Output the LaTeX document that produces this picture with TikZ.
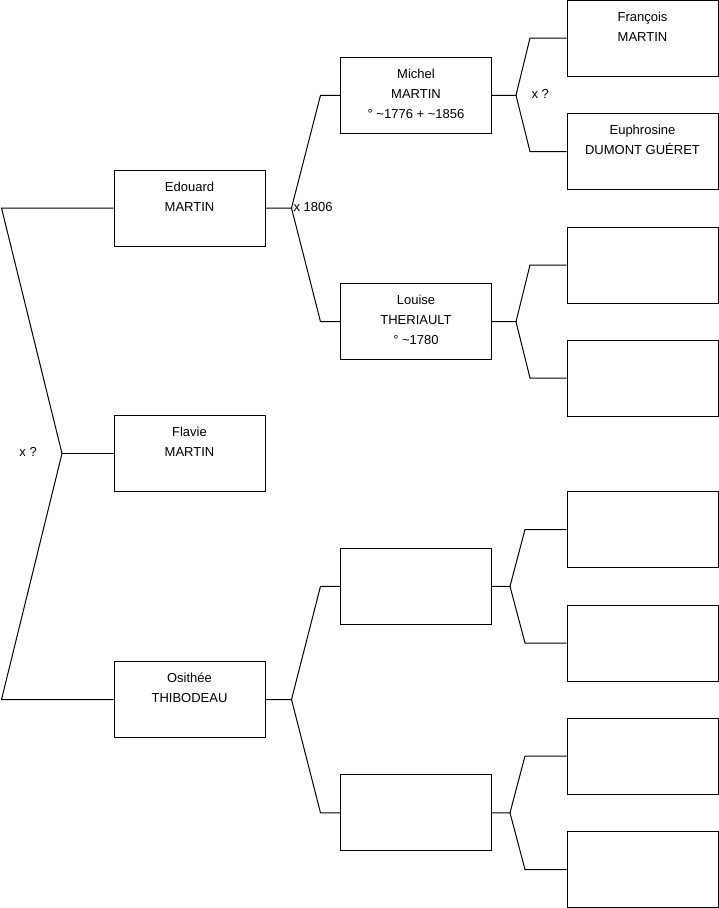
\documentclass[tikz,border=0pt]{standalone}
\usepackage{fontspec}
\setmainfont{Liberation Sans}
\newcommand{\pers}[1]{\parbox[c][76pt][t]{151pt}{\centering\rule{0pt}{21pt}#1}}
\begin{document}
\begin{tikzpicture}[x=1pt,y=-1pt,line width=1pt,
  font=\fontsize{13}{20}\selectfont,
  person/.style={draw,inner sep=0pt},
  mar/.style={anchor=base west,inner sep=0pt}]
  \useasboundingbox (0,0) rectangle (719,908);
  % generation 1
  \node[person] (edouard) at (189.5,208) {\pers{Edouard\\MARTIN}};
  \node[person] (flavie) at (189.5,453.5) {\pers{Flavie\\MARTIN}};
  \node[person] (osithee) at (189.5,699.5) {\pers{Osithée\\THIBODEAU}};
  % generation 2
  \node[person] (michel) at (416,95.3) {\pers{Michel\\MARTIN\\° \textasciitilde1776 + \textasciitilde1856}};
  \node[person] (louise) at (416,321.7) {\pers{Louise\\THERIAULT\\° \textasciitilde1780}};
  \node[person] (ancC) at (416,586.3) {\pers{}};
  \node[person] (ancD) at (416,812.8) {\pers{}};
  % generation 3
  \node[person] (francois) at (642.5,38) {\pers{François\\MARTIN}};
  \node[person] (euphrosine) at (642.5,151.5) {\pers{Euphrosine\\DUMONT GUÉRET}};
  \foreach \n/\y in {ancE/265,ancF/378,ancG/529.5,ancH/643,ancI/756,ancJ/869.5}
    \node[person] (\n) at (642.5,\y) {\pers{}};
  % forks
  \coordinate (edge) at (1.5,0);
  \coordinate (k0) at (62,453.5);
  \draw (edouard.west) -- (edouard.west -| edge) -- (k0) -- (osithee.west -| edge) -- (osithee.west);
  \draw (k0) -- (flavie.west);
  \foreach \p/\a/\b/\h/\d in {edouard/michel/louise/26/29,osithee/ancC/ancD/26/29,
      michel/francois/euphrosine/24/14,louise/ancE/ancF/24/14,
      ancC/ancG/ancH/18/15,ancD/ancI/ancJ/18/15}{
    \draw (\p.east) -- ++(\h,0) coordinate (k\p) -- ([xshift=\d pt]k\p |- \a.west) -- (\a.west);
    \draw (k\p) -- ([xshift=\d pt]k\p |- \b.west) -- (\b.west);
  }
  % marriages
  \node[mar] (m0) at (19,456) {x ?};
  \node[mar] (m1) at (293,211) {x 1806};
  \node[mar] (m2) at (531,98) {x ?};
\end{tikzpicture}
\end{document}
